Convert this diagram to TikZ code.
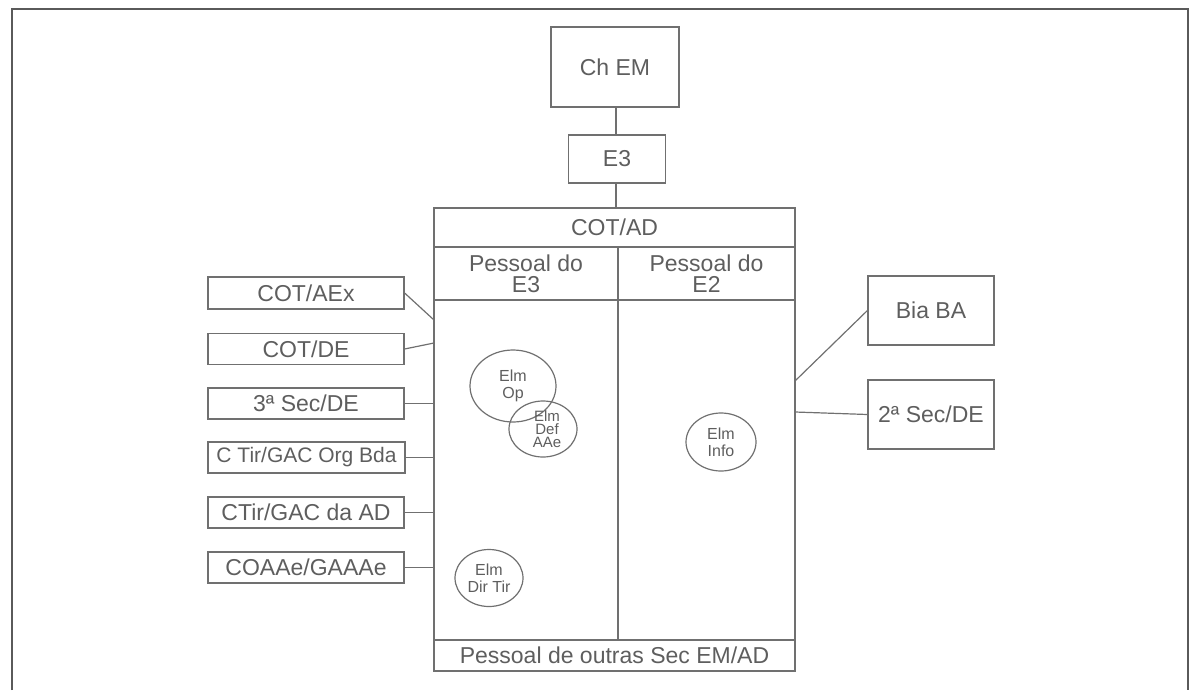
\documentclass[tikz,border=0pt]{standalone}
\usepackage{fontspec}
\setmainfont{Liberation Sans}
\usepackage{tikz}
\usetikzlibrary{shapes.geometric}
\definecolor{ink}{HTML}{5E5E5E}
\definecolor{rule}{HTML}{707070}

\begin{document}
\begin{tikzpicture}[
        x=1pt,y=-1pt,
        every node/.append style={text=ink}
    ]
    \tikzstyle{box}=[draw=rule,line width=1.2pt,rectangle,inner sep=0pt,align=center,font=\fontsize{23}{21}\selectfont];
    \tikzstyle{elm}=[draw=rule,line width=1.2pt,ellipse,inner sep=0pt,align=center,font=\fontsize{16}{17}\selectfont];
    \tikzstyle{link}=[draw=rule,line width=1.2pt];
    \useasboundingbox (0,0) rectangle (1190,690);
    % frame
    \draw[draw=rule!80!black,line width=2pt] (12,690) -- (12,9) -- (1188,9) -- (1188,690);
    % top
    \node[box,minimum width=128,minimum height=80] (chem) at (615,67) {Ch EM};
    \node[box,minimum width=97,minimum height=48] (e3) at (617,159) {E3};
    % COT/AD
    \node[box,minimum width=361,minimum height=39] (cotad) at (614.5,227.5) {COT/AD};
    \node[box,minimum width=184,minimum height=53] (pe3) at (526,273.5) {Pessoal do\\E3};
    \node[box,minimum width=177,minimum height=53] (pe2) at (706.5,273.5) {Pessoal do\\E2};
    \node[box,minimum width=184,minimum height=340] (body3) at (526,470) {};
    \node[box,minimum width=177,minimum height=340] (body2) at (706.5,470) {};
    \node[box,minimum width=361,minimum height=31] (outras) at (614.5,655.5) {Pessoal de outras Sec EM/AD};
    \draw[link] (chem.south -| 616,0) -- (e3.north -| 616,0);
    \draw[link] (e3.south -| 616,0) -- (cotad.north -| 616,0);
    % elements
    \node[elm,minimum width=86,minimum height=72] (elmop) at (513,386) {Elm\\Op};
    \node[elm,minimum width=68,minimum height=56,font=\fontsize{15}{13}\selectfont] (elmdef) at (543,429) {\hspace*{8pt}Elm\\\hspace*{8pt}Def\\\hspace*{8pt}AAe};
    \node[elm,minimum width=70,minimum height=58] (elminfo) at (721,442) {Elm\\Info};
    \node[elm,minimum width=68,minimum height=57] (elmdir) at (489,578) {Elm\\Dir Tir};
    % left
    \node[box,minimum width=196,minimum height=32] (aex) at (306,293) {COT/AEx};
    \node[box,minimum width=196,minimum height=31] (de) at (306,349) {COT/DE};
    \node[box,minimum width=196,minimum height=31] (sec3) at (306,403.5) {3ª Sec/DE};
    \node[box,minimum width=197,minimum height=31,font=\fontsize{21}{23}\selectfont] (ctorg) at (306.5,457.5) {C Tir/GAC Org Bda};
    \node[box,minimum width=196,minimum height=31] (ctad) at (306,512.5) {CTir/GAC da AD};
    \node[box,minimum width=196,minimum height=31] (coaae) at (306,567.5) {COAAe/GAAAe};
    \coordinate (l1) at (434,320);
    \coordinate (l2) at (434,343);
    \draw[link] (aex.east) -- (l1) (de.east) -- (l2);
    \draw[link] (sec3.east) -- (sec3.east -| body3.west) (ctorg.east) -- (ctorg.east -| body3.west) (ctad.east) -- (ctad.east -| body3.west) (coaae.east) -- (coaae.east -| body3.west);
    % right
    \node[box,minimum width=126,minimum height=69] (bia) at (931,310.5) {Bia BA};
    \node[box,minimum width=126,minimum height=69] (sec2) at (931,414.5) {2ª Sec/DE};
    \coordinate (r1) at (795,381);
    \coordinate (r2) at (795,412);
    \draw[link] (r1) -- (bia.west) (r2) -- (sec2.west);
\end{tikzpicture}
\end{document}
